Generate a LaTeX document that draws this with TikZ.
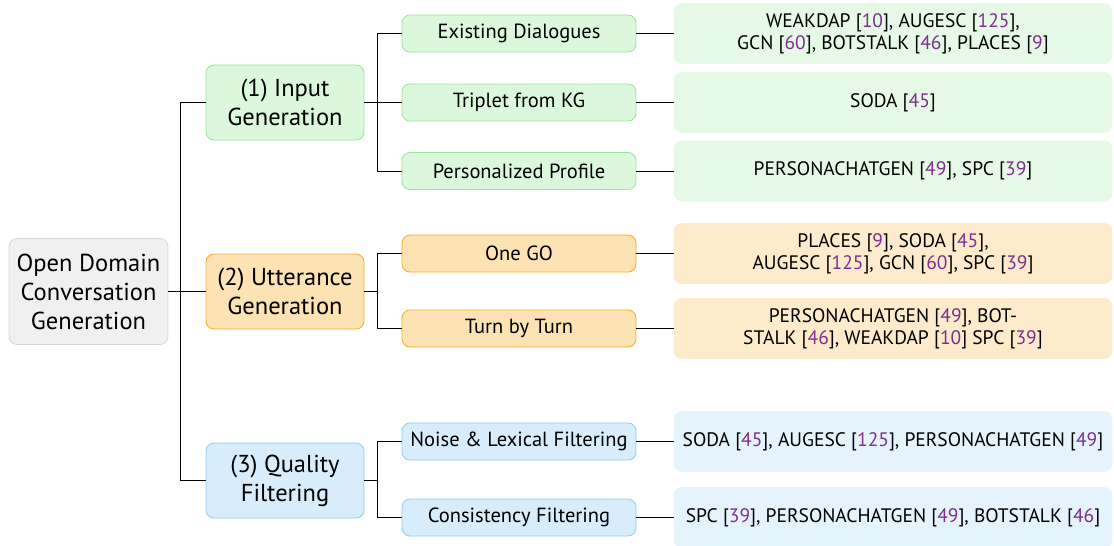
\documentclass[tikz,border=0pt]{standalone}
\usepackage{fontspec}
\setmainfont{PT Sans}
\definecolor{citec}{HTML}{7E2F8E}
\definecolor{rootfill}{HTML}{F0F0F0}
\definecolor{rootdraw}{HTML}{D6D6D6}
\definecolor{gfill}{HTML}{DCF8DC}
\definecolor{gdraw}{HTML}{98E498}
\definecolor{gleaf}{HTML}{E6F9E6}
\definecolor{ofill}{HTML}{FDE3B3}
\definecolor{odraw}{HTML}{F7AC1E}
\definecolor{oleaf}{HTML}{FDEBCB}
\definecolor{bfill}{HTML}{D8EDFB}
\definecolor{bdraw}{HTML}{8CCCF2}
\definecolor{bleaf}{HTML}{E5F3FC}
\newcommand{\cref}[1]{[{\color{citec}#1}]}
\tikzset{
  base/.style={rounded corners=8pt, align=center, inner sep=0pt, line width=0.8pt},
  rootbox/.style={base, fill=rootfill, draw=rootdraw, minimum width=159pt, minimum height=106pt, font=\fontsize{24.5}{29}\selectfont},
  lone/.style={base, minimum width=158pt, minimum height=75pt, font=\fontsize{24.5}{29}\selectfont},
  ltwo/.style={base, minimum width=234pt, minimum height=37pt, font=\fontsize{20.5}{22}\selectfont},
  leaf/.style={base, minimum width=438pt, minimum height=60pt, font=\fontsize{19.5}{22}\selectfont},
  g1/.style={lone, fill=gfill, draw=gdraw}, g2/.style={ltwo, fill=gfill, draw=gdraw}, g3/.style={leaf, fill=gleaf, draw=gleaf},
  o1/.style={lone, fill=ofill, draw=odraw}, o2/.style={ltwo, fill=ofill, draw=odraw}, o3/.style={leaf, fill=oleaf, draw=oleaf},
  b1/.style={lone, fill=bfill, draw=bdraw}, b2/.style={ltwo, fill=bfill, draw=bdraw}, b3/.style={leaf, fill=bleaf, draw=bleaf},
  conn/.style={draw=black, line width=1pt}
}
\begin{document}
\begin{tikzpicture}[x=1pt, y=-1pt]
\useasboundingbox (0,0) rectangle (1114,546);
% root
\node[rootbox] (root) at (88.5,291.5) {Open Domain\\Conversation\\Generation};
% level 1
\node[g1] (in) at (285,102.5) {(1) Input\\Generation};
\node[o1] (ut) at (285,291.5) {(2) Utterance\\Generation};
\node[b1] (qf) at (285,480.5) {(3) Quality\\Filtering};
% level 2
\node[g2] (ed) at (519,33.5) {Existing Dialogues};
\node[g2] (tk) at (519,102.5) {Triplet from KG};
\node[g2] (pp) at (519,171) {Personalized Profile};
\node[o2] (og) at (519,253.5) {One GO};
\node[o2] (tt) at (519,328.5) {Turn by Turn};
\node[b2] (nl) at (519,441.5) {Noise \& Lexical Filtering};
\node[b2] (cf) at (519,517.5) {Consistency Filtering};
% leaves
\node[g3] (l1) at (893,33.5) {WEAKDAP \cref{10}, AUGESC \cref{125},\\GCN \cref{60}, BOTSTALK \cref{46}, PLACES \cref{9}};
\node[g3] (l2) at (893,102.5) {SODA \cref{45}};
\node[g3] (l3) at (893,171) {PERSONACHATGEN \cref{49}, SPC \cref{39}};
\node[o3] (l4) at (893,253.5) {PLACES \cref{9}, SODA \cref{45},\\AUGESC \cref{125}, GCN \cref{60}, SPC \cref{39}};
\node[o3] (l5) at (893,328.5) {PERSONACHATGEN \cref{49}, BOT-\\STALK \cref{46}, WEAKDAP \cref{10} SPC \cref{39}};
\node[b3] (l6) at (893,441.5) {SODA \cref{45}, AUGESC \cref{125}, PERSONACHATGEN \cref{49}};
\node[b3] (l7) at (893,517.5) {SPC \cref{39}, PERSONACHATGEN \cref{49}, BOTSTALK \cref{46}};
% branch points
\coordinate (t0) at (180,291.5);
\coordinate (t1) at (377,102.5);
\coordinate (t2) at (377,291.5);
\coordinate (t3) at (377,480.5);
% connectors
\draw[conn] (root.east) -- (t0);
\draw[conn] (t0) |- (in.west);
\draw[conn] (t0) -- (ut.west);
\draw[conn] (t0) |- (qf.west);
\draw[conn] (in.east) -- (t1);
\draw[conn] (t1) |- (ed.west);
\draw[conn] (t1) -- (tk.west);
\draw[conn] (t1) |- (pp.west);
\draw[conn] (ut.east) -- (t2);
\draw[conn] (t2) |- (og.west);
\draw[conn] (t2) |- (tt.west);
\draw[conn] (qf.east) -- (t3);
\draw[conn] (t3) |- (nl.west);
\draw[conn] (t3) |- (cf.west);
\draw[conn] (ed.east) -- (l1.west);
\draw[conn] (tk.east) -- (l2.west);
\draw[conn] (pp.east) -- (l3.west);
\draw[conn] (og.east) -- (l4.west);
\draw[conn] (tt.east) -- (l5.west);
\draw[conn] (nl.east) -- (l6.west);
\draw[conn] (cf.east) -- (l7.west);
\end{tikzpicture}
\end{document}
